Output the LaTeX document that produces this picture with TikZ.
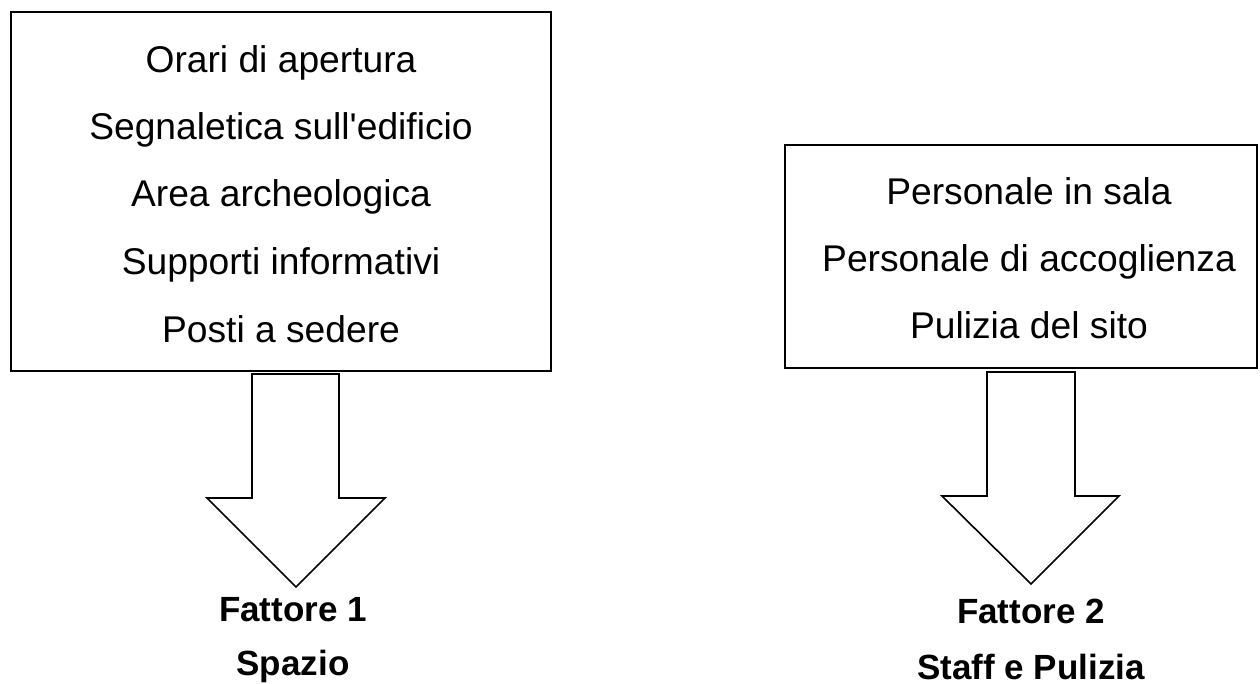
\documentclass[tikz,border=0pt]{standalone}
\usepackage{fontspec}
\setmainfont{Liberation Sans}
\begin{document}
\begin{tikzpicture}[x=1pt,y=-1pt,
  box/.style={draw=black, line width=1.8pt, inner sep=0pt, outer sep=0pt, anchor=north west},
  item/.style={anchor=base, inner sep=0pt, font=\fontsize{37.2}{44}\selectfont},
  factor/.style={anchor=base, inner sep=0pt, font=\fontsize{35}{42}\selectfont\bfseries},
  blockarrow/.style={draw=black, fill=white, line width=1.6pt, line join=miter}]
\useasboundingbox (0,0) rectangle (1260,684);
% left box
\node[box, minimum width=540pt, minimum height=359pt] (boxA) at (11,12) {};
\node[item] (a1) at (281,72.5) {Orari di apertura};
\node[item] (a2) at (281,139.5) {Segnaletica sull\textquotesingle edificio};
\node[item] (a3) at (281,207) {Area archeologica};
\node[item] (a4) at (281,274.5) {Supporti informativi};
\node[item] (a5) at (281,342) {Posti a sedere};
% right box
\node[box, minimum width=472pt, minimum height=223pt] (boxB) at (785,145) {};
\node[item] (b1) at (1029,205) {Personale in sala};
\node[item] (b2) at (1029,271.5) {Personale di accoglienza};
\node[item] (b3) at (1029,338) {Pulizia del sito};
% labels
\node[factor] (f1) at (293,621) {Fattore 1};
\node[factor] (s1) at (293,675) {Spazio};
\node[factor] (f2) at (1031,623) {Fattore 2};
\node[factor] (s2) at (1031,679) {Staff e Pulizia};
% block arrows
\draw[blockarrow] (252,374) -- (339,374) -- (339,498) -- (385,498) -- (296,587) -- (207,498) -- (252,498) -- cycle;
\draw[blockarrow] (987,372) -- (1075,372) -- (1075,496) -- (1119,496) -- (1031,584) -- (942,496) -- (987,496) -- cycle;
\end{tikzpicture}
\end{document}
